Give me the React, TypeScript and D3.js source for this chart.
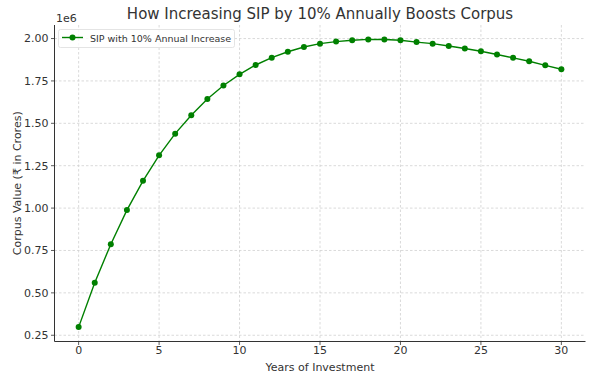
import React from "react";
import * as d3 from "d3";

const years: number[] = Array.from({ length: 31 }, (_, i) => i);
const corpus: number[] = [
  0.298, 0.560, 0.787, 0.988, 1.161, 1.311, 1.439, 1.548, 1.643, 1.723,
  1.789, 1.844, 1.887, 1.922, 1.950, 1.970, 1.982, 1.990, 1.995, 1.994,
  1.990, 1.979, 1.970, 1.956, 1.941, 1.925, 1.906, 1.886, 1.866, 1.842, 1.819,
].map((v) => v * 1e6);
const xTicks: number[] = [0, 5, 10, 15, 20, 25, 30];
const yTicks: number[] = [0.25, 0.5, 0.75, 1.0, 1.25, 1.5, 1.75, 2.0];

const W = 610;
const H = 381;
const left = 54.5;
const right = 585.5;
const top = 25;
const bottom = 341.5;
const font = "DejaVu Sans, sans-serif";
const txt = "#333";

export default function App() {
  const x = d3.scaleLinear().domain([-1.5, 31.5]).range([left, right]);
  const ymin = d3.min(corpus)! / 1e6;
  const ymax = d3.max(corpus)! / 1e6;
  const pad = (ymax - ymin) * 0.05;
  const y = d3.scaleLinear().domain([ymin - pad, ymax + pad]).range([bottom, top]);
  const line = d3
    .line<number>()
    .x((_, i) => x(years[i]))
    .y((d) => y(d / 1e6));

  return (
    <svg
      width={W}
      height={H}
      style={{ position: "absolute", left: 0, top: 0, background: "#fff" }}
      fontFamily={font}
    >
      <rect width={W} height={H} fill="#fff" />
      {/* grid */}
      {xTicks.map((t) => (
        <line key={"gx" + t} x1={x(t)} x2={x(t)} y1={top} y2={bottom} stroke="#d0d0d0" strokeWidth={0.8} strokeDasharray="2.5,2" />
      ))}
      {yTicks.map((t) => (
        <line key={"gy" + t} x1={left} x2={right} y1={y(t)} y2={y(t)} stroke="#d0d0d0" strokeWidth={0.8} strokeDasharray="2.5,2" />
      ))}
      {/* spines */}
      <line x1={left} x2={left} y1={top} y2={bottom} stroke="#333" strokeWidth={1} />
      <line x1={left} x2={right} y1={bottom} y2={bottom} stroke="#333" strokeWidth={1} />
      {/* ticks */}
      {xTicks.map((t) => (
        <g key={"tx" + t}>
          <line x1={x(t)} x2={x(t)} y1={bottom} y2={bottom + 3.5} stroke="#333" strokeWidth={0.8} />
          <text x={x(t)} y={353.5} textAnchor="middle" fontSize={11} fill={txt}>
            {t}
          </text>
        </g>
      ))}
      {yTicks.map((t) => (
        <g key={"ty" + t}>
          <line x1={left - 3.5} x2={left} y1={y(t)} y2={y(t)} stroke="#333" strokeWidth={0.8} />
          <text x={left - 6} y={y(t)} dy="0.36em" textAnchor="end" fontSize={11} fill={txt}>
            {t.toFixed(2)}
          </text>
        </g>
      ))}
      <text x={56} y={21.5} fontSize={11} fill={txt}>
        1e6
      </text>
      {/* labels */}
      <text x={(left + right) / 2} y={19} textAnchor="middle" fontSize={15} fill={txt}>
        How Increasing SIP by 10% Annually Boosts Corpus
      </text>
      <text x={(left + right) / 2} y={371} textAnchor="middle" fontSize={11} fill={txt}>
        Years of Investment
      </text>
      <text
        transform={`translate(21,${(top + bottom) / 2}) rotate(-90)`}
        textAnchor="middle"
        fontSize={11}
        fill={txt}
      >
        Corpus Value (₹ in Crores)
      </text>
      {/* series */}
      <path d={line(corpus)!} fill="none" stroke="green" strokeWidth={1.4} />
      {corpus.map((v, i) => (
        <circle key={"p" + i} cx={x(years[i])} cy={y(v / 1e6)} r={3} fill="green" />
      ))}
      {/* legend */}
      <rect x={58.5} y={29.5} width={176} height={18} rx={2} fill="#fff" fillOpacity={0.8} stroke="#ddd" strokeWidth={0.8} />
      <line x1={62} x2={83} y1={37.5} y2={37.5} stroke="green" strokeWidth={1.4} />
      <circle cx={72.5} cy={37.5} r={3} fill="green" />
      <text x={90} y={41.5} fontSize={9.5} fill={txt}>
        SIP with 10% Annual Increase
      </text>
    </svg>
  );
}
